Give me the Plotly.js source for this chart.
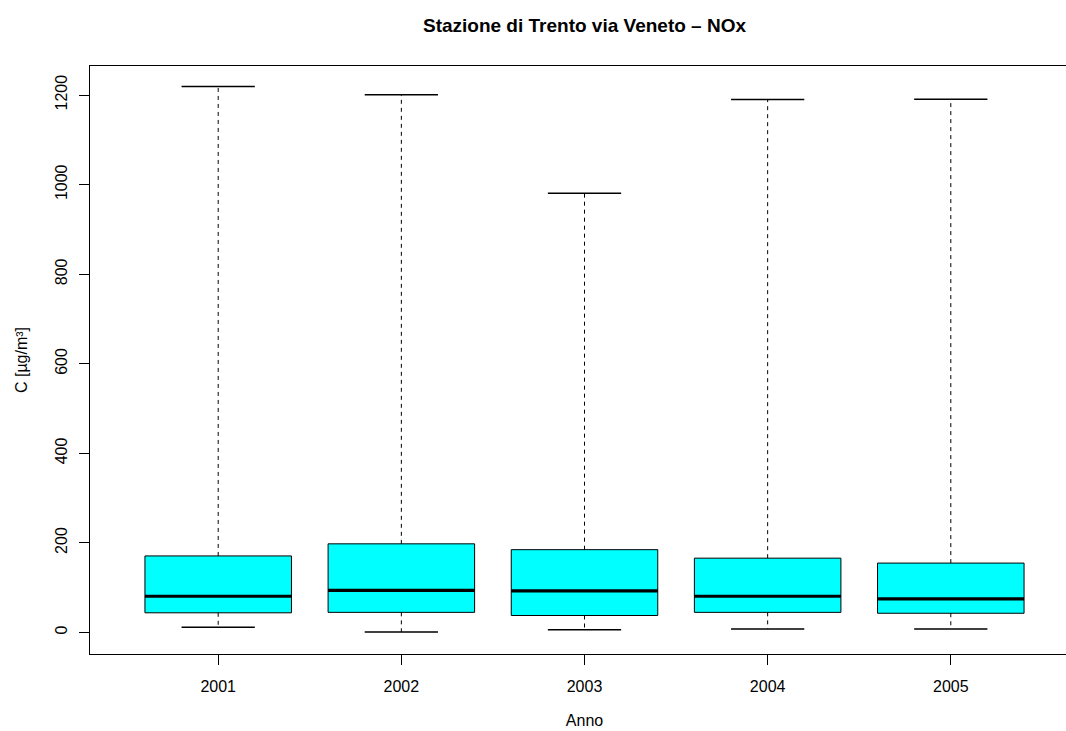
<!DOCTYPE html>
<html>
<head>
<meta charset="utf-8">
<script src="https://cdn.plot.ly/plotly-3.0.1.min.js"></script>
<style>
html, body { margin: 0; padding: 0; overflow: hidden; background: #fff; }
#wrap { width: 1066px; height: 731px; overflow: hidden; }
#chart { width: 1090px; height: 731px; }
</style>
</head>
<body>
<div id="wrap"><div id="chart"></div></div>
<script>
// Data (µg/m³)
const years = ['2001', '2002', '2003', '2004', '2005'];
const positions = [1, 2, 3, 4, 5];
const lowerWhisker = [12, 1, 6, 8, 8];
const q1 = [44, 45, 38, 45, 43];
const median = [81, 94, 93, 81, 75];
const q3 = [171, 198, 185, 166, 155];
const upperWhisker = [1219, 1201, 981, 1190, 1191];

const boxHalf = 0.4;
const capHalf = 0.2;

const boxTrace = {
  type: 'box',
  x: positions,
  q1: q1,
  median: median,
  q3: q3,
  lowerfence: q1,
  upperfence: q3,
  width: 2 * boxHalf,
  whiskerwidth: 0,
  boxpoints: false,
  fillcolor: '#00FFFF',
  line: { color: '#000000', width: 1 },
  hoverinfo: 'skip',
  showlegend: false
};

function segs(fnX0, fnX1, fnY0, fnY1) {
  const xs = [], ys = [];
  positions.forEach((p, i) => {
    xs.push(fnX0(p, i), fnX1(p, i), null);
    ys.push(fnY0(p, i), fnY1(p, i), null);
  });
  return { xs, ys };
}

const upW = segs(p => p, p => p, (p, i) => q3[i], (p, i) => upperWhisker[i]);
const loW = segs(p => p, p => p, (p, i) => q1[i], (p, i) => lowerWhisker[i]);
const whiskers = {
  type: 'scatter', mode: 'lines',
  x: upW.xs.concat(loW.xs), y: upW.ys.concat(loW.ys),
  line: { color: '#000000', width: 1, dash: '4px,4px' },
  hoverinfo: 'skip', showlegend: false
};

const upC = segs(p => p - capHalf, p => p + capHalf, (p, i) => upperWhisker[i], (p, i) => upperWhisker[i]);
const loC = segs(p => p - capHalf, p => p + capHalf, (p, i) => lowerWhisker[i], (p, i) => lowerWhisker[i]);
const caps = {
  type: 'scatter', mode: 'lines',
  x: upC.xs.concat(loC.xs), y: upC.ys.concat(loC.ys),
  line: { color: '#000000', width: 1.5 },
  hoverinfo: 'skip', showlegend: false
};

const med = segs(p => p - boxHalf, p => p + boxHalf, (p, i) => median[i], (p, i) => median[i]);
const medians = {
  type: 'scatter', mode: 'lines',
  x: med.xs, y: med.ys,
  line: { color: '#000000', width: 3.2 },
  hoverinfo: 'skip', showlegend: false
};

const font = 'Liberation Sans, Arial, Helvetica, sans-serif';

const layout = {
  width: 1090,
  height: 731,
  margin: { l: 90, r: 11, t: 66, b: 77 },
  paper_bgcolor: '#ffffff',
  plot_bgcolor: '#ffffff',
  font: { family: font, size: 16, color: '#000000' },
  showlegend: false,
  title: {
    text: '<b>Stazione di Trento via Veneto – NOx</b>',
    font: { family: font, size: 19, color: '#000000' },
    xref: 'paper', x: 0.5, xanchor: 'center',
    yref: 'container', y: 1 - 25 / 731, yanchor: 'middle'
  },
  xaxis: {
    range: [0.3, 5.7],
    tickvals: positions,
    ticktext: years,
    ticks: 'outside', ticklen: 10, tickwidth: 1, tickcolor: '#000000',
    ticklabelstandoff: 8,
    showline: true, mirror: true, linecolor: '#000000', linewidth: 1,
    showgrid: false, zeroline: false,
    tickfont: { family: font, size: 16, color: '#000000' },
    title: { text: 'Anno', font: { family: font, size: 16, color: '#000000' }, standoff: 20 }
  },
  yaxis: {
    range: [-48, 1265],
    tickvals: [0, 200, 400, 600, 800, 1000, 1200],
    ticktext: ['0', '200', '400', '600', '800', '1000', '1200'],
    tickangle: -90,
    ticks: 'outside', ticklen: 10, tickwidth: 1, tickcolor: '#000000',
    ticklabelstandoff: 6,
    showline: true, mirror: false, linecolor: '#000000', linewidth: 1,
    showgrid: false, zeroline: false,
    tickfont: { family: font, size: 16, color: '#000000' },
    title: { text: 'C [µg/m³]', font: { family: font, size: 16, color: '#000000' }, standoff: 20 }
  }
};

Plotly.newPlot('chart', [boxTrace, whiskers, caps, medians], layout, { displayModeBar: false, staticPlot: true });
</script>
</body>
</html>
